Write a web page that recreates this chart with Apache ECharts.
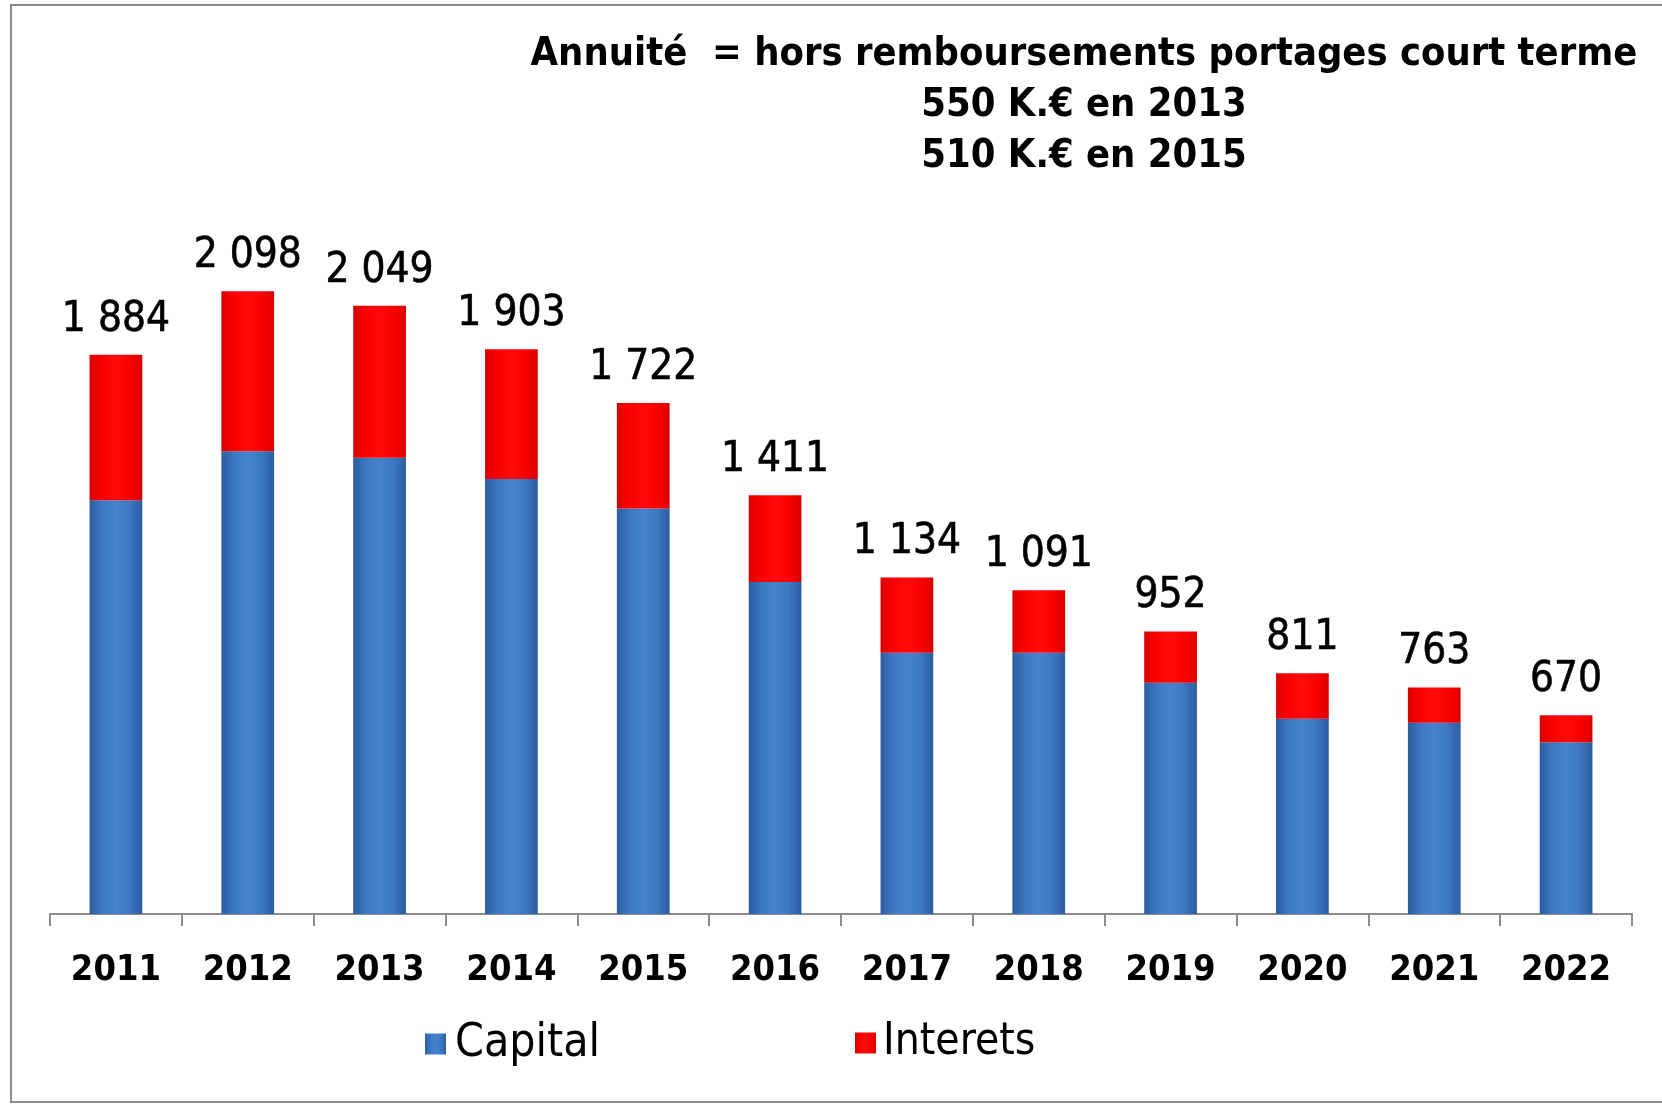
<!DOCTYPE html>
<html>
<head>
<meta charset="utf-8">
<script src="https://cdn.jsdelivr.net/npm/echarts@6/dist/echarts.min.js"></script>
<style>
html,body{margin:0;padding:0;background:#fff;}
#chart{width:1662px;height:1108px;}
</style>
</head>
<body>
<div id="chart"></div>
<script>
const years = ['2011','2012','2013','2014','2015','2016','2017','2018','2019','2020','2021','2022'];
const totals = [1884, 2098, 2049, 1903, 1722, 1411, 1134, 1091, 952, 811, 763, 670];
const capital = [1394, 1559, 1537, 1466, 1366, 1119, 880, 880, 779, 658, 644, 579];
const interets = totals.map((t, i) => t - capital[i]);
const titleLines = [
  'Annuité  = hors remboursements portages court terme',
  '550 K.€ en 2013',
  '510 K.€ en 2015'
];

const FONT = '"DejaVu Sans Condensed", "Liberation Sans Narrow", "DejaVu Sans", sans-serif';

function fmt(v) {
  const s = String(v);
  return s.length > 3 ? s.slice(0, s.length - 3) + ' ' + s.slice(-3) : s;
}

const blueGrad = {
  type: 'linear', x: 0, y: 0, x2: 1, y2: 0,
  colorStops: [
    {offset: 0, color: '#2c5d9e'},
    {offset: 0.25, color: '#3c78c4'},
    {offset: 0.5, color: '#4683cf'},
    {offset: 0.75, color: '#3c78c4'},
    {offset: 1, color: '#2c5d9e'}
  ]
};
const redGrad = {
  type: 'linear', x: 0, y: 0, x2: 1, y2: 0,
  colorStops: [
    {offset: 0, color: '#d80000'},
    {offset: 0.2, color: '#f80000'},
    {offset: 0.5, color: '#ff0a0a'},
    {offset: 0.8, color: '#f80000'},
    {offset: 1, color: '#d80000'}
  ]
};

const chart = echarts.init(document.getElementById('chart'));
chart.setOption({
  backgroundColor: '#ffffff',
  animation: false,
  graphic: [
    {
      type: 'rect',
      shape: {x: 11, y: 5, width: 1700, height: 1097},
      style: {fill: 'none', stroke: '#8c8c8c', lineWidth: 2},
      silent: true
    },
    {
      type: 'text',
      x: 1084, y: 29,
      style: {
        text: titleLines.join('\n'),
        align: 'center',
        verticalAlign: 'top',
        fontFamily: FONT,
        fontWeight: 'bold',
        fontSize: 39.5,
        lineHeight: 51,
        fill: '#000'
      }
    }
  ],
  legend: [
    {
      data: ['Capital'],
      icon: 'rect',
      left: 420, top: 1016,
      itemWidth: 21, itemHeight: 21,
      itemGap: 10,
      textStyle: {fontFamily: FONT, fontSize: 46, color: '#000', padding: [0, 0, 0, 4]}
    },
    {
      data: ['Interets'],
      icon: 'rect',
      left: 850, top: 1016,
      itemWidth: 21, itemHeight: 21,
      textStyle: {fontFamily: FONT, fontSize: 44, color: '#000', padding: [0, 0, 0, 2]}
    }
  ],
  grid: {left: 50, right: 30, top: 172, bottom: 194, containLabel: false},
  xAxis: {
    type: 'category',
    data: years,
    axisLine: {lineStyle: {color: '#8c8c8c', width: 2}},
    axisTick: {show: true, length: 12, lineStyle: {color: '#8c8c8c', width: 2}},
    axisLabel: {
      fontFamily: FONT, fontWeight: 'bold', fontSize: 36, color: '#000',
      margin: 39
    }
  },
  yAxis: {
    type: 'value', min: 0, max: 2500,
    show: false,
    splitLine: {show: false}
  },
  series: [
    {
      name: 'Capital',
      type: 'bar',
      stack: 'tot',
      barWidth: '40%',
      data: capital,
      itemStyle: {color: blueGrad}
    },
    {
      name: 'Interets',
      type: 'bar',
      stack: 'tot',
      barWidth: '40%',
      data: interets,
      itemStyle: {color: redGrad},
      label: {
        show: true,
        position: 'top',
        distance: 14,
        fontFamily: FONT,
        fontSize: 42,
        color: '#000',
        textBorderColor: '#000',
        textBorderWidth: 0.6,
        formatter: p => fmt(totals[p.dataIndex])
      }
    }
  ]
});
</script>
</body>
</html>
